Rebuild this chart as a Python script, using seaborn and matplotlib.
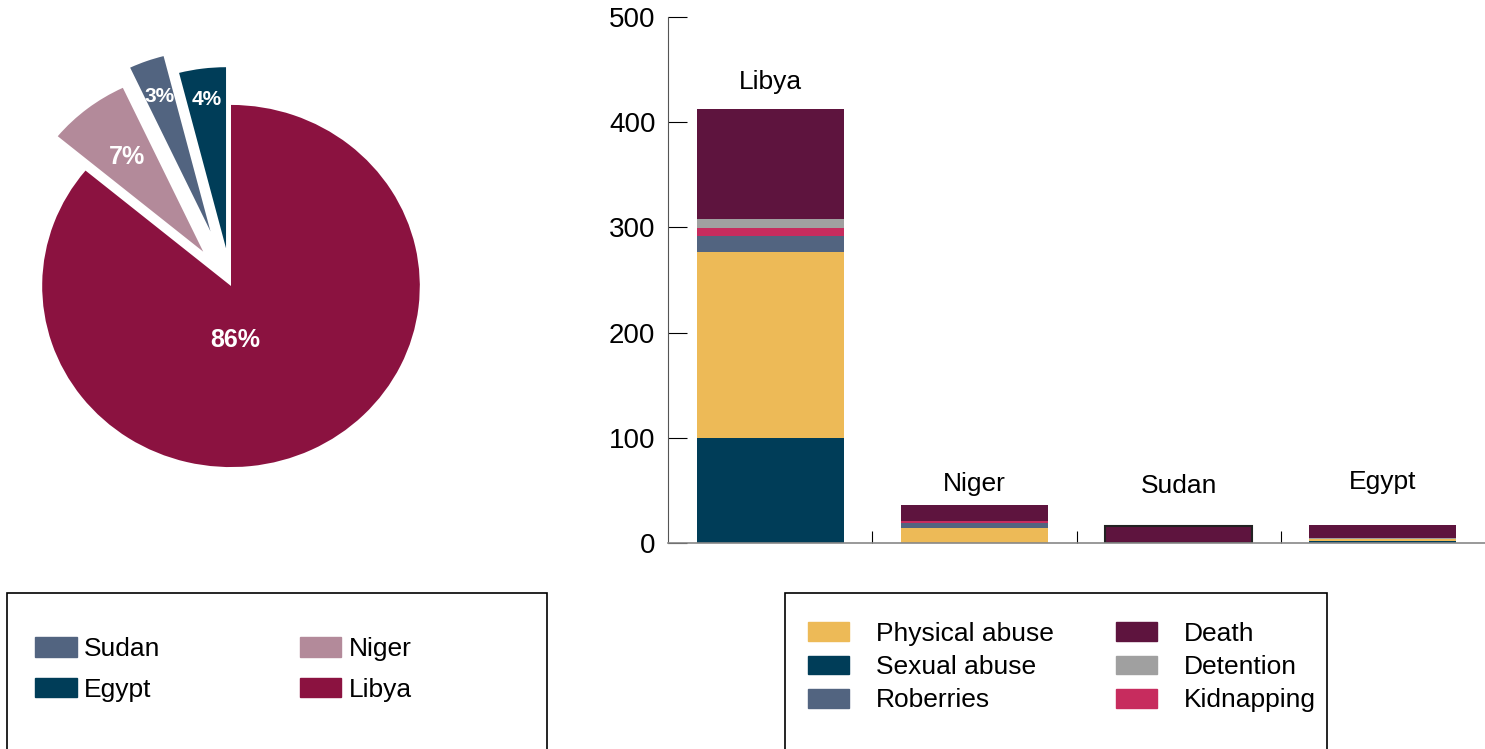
import numpy as np
import pandas as pd
import matplotlib
matplotlib.use("Agg")
import matplotlib.pyplot as plt
from matplotlib.patches import Patch, Rectangle
import seaborn as sns

# ── data ─────────────────────────────────────────────────────────────────────
pie_labels = ["Egypt", "Sudan", "Niger", "Libya"]
pie_shares = [4, 3, 7, 86]
pie_colors = ["#003d58", "#526480", "#b38a9a", "#8b1240"]
pie_explode = [0.21, 0.32, 0.24, 0.0]

countries = ["Libya", "Niger", "Sudan", "Egypt"]
sexual_abuse = [100, 0, 0, 2]
physical_abuse = [177, 14, 0, 2]
roberries = [15, 5, 0, 0]
kidnapping = [7, 2, 0, 0]
detention = [9, 0, 0, 1]
death = [105, 15, 16, 12]

# stacking order bottom -> top
layers = [
    ("Sexual abuse", sexual_abuse, "#003d58"),
    ("Physical abuse", physical_abuse, "#edba57"),
    ("Roberries", roberries, "#526480"),
    ("Kidnapping", kidnapping, "#c72c5e"),
    ("Detention", detention, "#a0a0a0"),
    ("Death", death, "#5e143e"),
]

sns.set_style("white")
plt.rcParams["font.family"] = ["Liberation Sans", "DejaVu Sans"]
plt.rcParams["text.color"] = "black"
plt.rcParams["xtick.color"] = "black"
plt.rcParams["ytick.color"] = "black"

W, H = 1485, 749
fig = plt.figure(figsize=(W / 100, H / 100), dpi=100)


def px_box(x0, y0, x1, y1):
    """pixel box (top-left origin) -> figure fraction rect"""
    return [x0 / W, 1 - y1 / H, (x1 - x0) / W, (y1 - y0) / H]


# ── pie (slightly wider than tall, like the original) ────────────────────────
ax_pie = fig.add_axes(px_box(-5, 32.5, 467, 539.5))
wedges, _, autotexts = ax_pie.pie(
    pie_shares, colors=pie_colors, explode=pie_explode, startangle=90,
    counterclock=True, autopct=lambda p: f"{p:.0f}%",
    wedgeprops=dict(linewidth=0),
    textprops=dict(color="white", fontweight="bold", fontsize=15),
)
# percentage label distance from each wedge tip (radius units)
pct_dist = [0.83, 0.79, 0.66]
for w, t, d, ex in zip(wedges[:3], autotexts[:3], pct_dist, pie_explode):
    mid = np.deg2rad((w.theta1 + w.theta2) / 2)
    t.set_position(((ex + d) * np.cos(mid), (ex + d) * np.sin(mid)))
autotexts[2].set_fontsize(18)
autotexts[3].set_position((0.02, -0.3))
autotexts[3].set_fontsize(18)
ax_pie.set_xlim(-1.25, 1.25)
ax_pie.set_ylim(-1.4, 1.4)
ax_pie.set_aspect("auto")
ax_pie.axis("off")

# ── stacked bars ─────────────────────────────────────────────────────────────
ax = fig.add_axes(px_box(668, 17, 1485, 543))
df = pd.DataFrame({"country": countries})
cum = np.zeros(len(countries))
stacks = []
for name, vals, col in layers:
    cum = cum + np.array(vals)
    stacks.append((name, cum.copy(), col))

# draw cumulative totals from the top layer down so lower layers cover them
for name, tops, col in reversed(stacks):
    df["val"] = tops
    sns.barplot(data=df, x="country", y="val", color=col, width=0.72,
                saturation=1, ax=ax, linewidth=0)

# Sudan bar has a dark outline in the original
totals = stacks[-1][1]
for p in ax.patches[: len(countries)]:
    if abs(p.get_x() + p.get_width() / 2 - countries.index("Sudan")) < 0.01:
        p.set_edgecolor("#222222")
        p.set_linewidth(1.5)

# label gaps above each bar (points)
label_gap = [19, 15, 29, 31]
for i, (c, t) in enumerate(zip(countries, totals)):
    ax.annotate(c, (i, t), xytext=(0, label_gap[i]), textcoords="offset points",
                ha="center", va="center", fontsize=19)

ax.set_xlim(-0.5, 3.5)
ax.set_ylim(0, 500)
ax.set_yticks([0, 100, 200, 300, 400, 500])
ax.set_xticks([0.5, 1.5, 2.5])
ax.set_xticklabels([])
ax.set_xlabel("")
ax.set_ylabel("")
ax.tick_params(axis="y", direction="in", length=14, width=0.8, labelsize=20,
               left=True, pad=9)
ax.tick_params(axis="x", direction="in", length=9, width=0.8, bottom=True)
for s in ["top", "right"]:
    ax.spines[s].set_visible(False)
ax.spines["left"].set_color("#555555")
ax.spines["left"].set_linewidth(0.8)
ax.spines["bottom"].set_color("#888888")
ax.spines["bottom"].set_linewidth(1.2)

# ── legends with boxes running off the bottom edge ──────────────────────────
for x0, x1 in [(7, 547), (785, 1327)]:
    fig.patches.append(Rectangle((x0 / W, -0.05), (x1 - x0) / W, 1 - 593 / H + 0.05,
                                 transform=fig.transFigure, fill=False,
                                 edgecolor="black", linewidth=1.2))

pie_handles = [Patch(color=pie_colors[pie_labels.index(n)])
               for n in ["Sudan", "Egypt", "Niger", "Libya"]]
fig.legend(pie_handles, ["Sudan", "Egypt", "Niger", "Libya"], ncol=2,
           loc="upper left", bbox_to_anchor=(35 / W, 1 - 637 / H),
           frameon=False, fontsize=19, handlelength=1.59, handleheight=0.76,
           handletextpad=0.27, columnspacing=5.27, labelspacing=0.63,
           borderpad=0, borderaxespad=0)

bar_order = ["Physical abuse", "Sexual abuse", "Roberries",
             "Death", "Detention", "Kidnapping"]
bar_cols = {n: c for n, _, c in layers}
fig.legend([Patch(color=bar_cols[n]) for n in bar_order], bar_order, ncol=2,
           loc="upper left", bbox_to_anchor=(808 / W, 1 - 622 / H),
           frameon=False, fontsize=19, handlelength=1.55, handleheight=0.72,
           handletextpad=1.02, columnspacing=2.35, labelspacing=0.35,
           borderpad=0, borderaxespad=0)

fig.savefig("out.png", dpi=100)
